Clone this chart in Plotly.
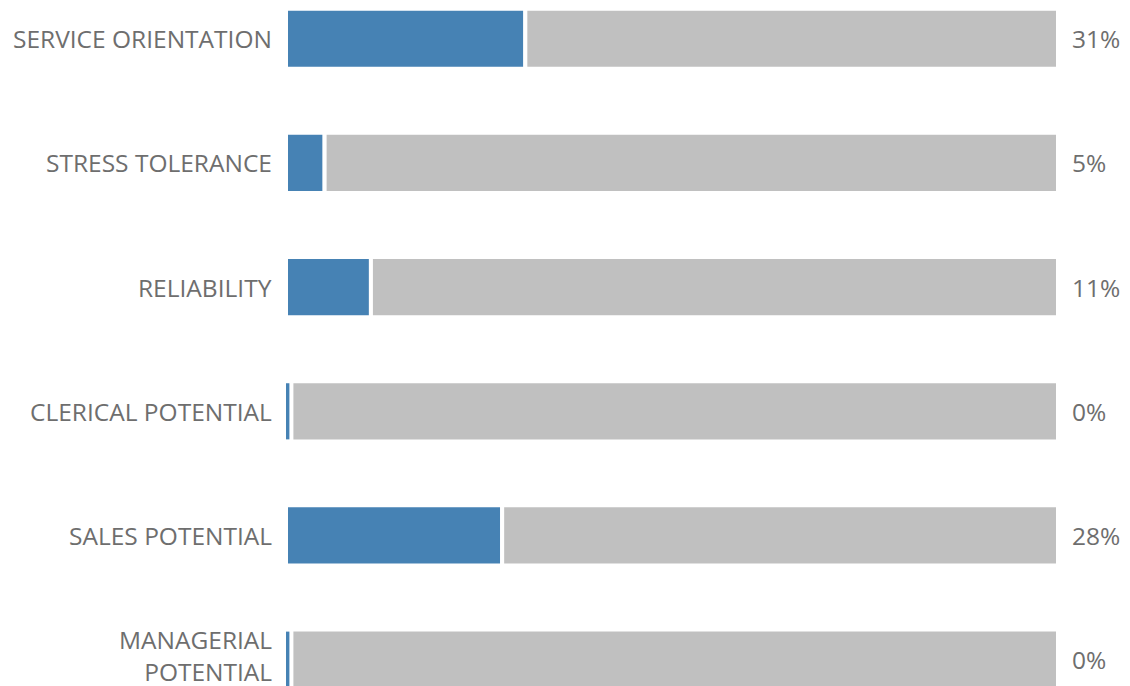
import plotly.graph_objects as go

categories = ["SERVICE ORIENTATION", "STRESS TOLERANCE", "RELIABILITY",
              "CLERICAL POTENTIAL", "SALES POTENTIAL", "MANAGERIAL<br>POTENTIAL"]
scores = [31, 5, 11, 0, 28, 0]
total = 100

BLUE = "#4682b4"
GREY = "#c0c0c0"
TEXT = "#6e6e6e"
FONT = "Open Sans"
FSIZE = 24.5

# zero scores still get a thin visible sliver, as in the reference
shown = [max(v, 0.7) for v in scores]
rest = [total - v for v in shown]
blue_line = [4 if v > 0 else 0 for v in scores]
blue_width = [0.485 if v > 0 else 0.452 for v in scores]

fig = go.Figure()
fig.add_trace(go.Bar(
    y=categories, x=shown, orientation="h",
    marker=dict(color=BLUE, line=dict(color="white", width=blue_line)),
    width=blue_width, hoverinfo="skip",
))
fig.add_trace(go.Bar(
    y=categories, x=rest, base=shown, orientation="h",
    marker=dict(color=GREY, line=dict(color="white", width=4)),
    width=0.485, hoverinfo="skip",
))

for c, v in zip(categories, scores):
    fig.add_annotation(
        x=1, xref="paper", y=c, yref="y", text=f"{v}%",
        xanchor="left", yanchor="middle", xshift=12, showarrow=False,
        font=dict(family=FONT, size=FSIZE, color=TEXT),
    )
    multiline = "<br>" in c
    fig.add_annotation(
        x=0, xref="paper", y=c, yref="y", text=c,
        xanchor="right", yanchor="middle", xshift=-13, align="right",
        yshift=4 if multiline else 0,
        showarrow=False, borderpad=0,
        font=dict(family=FONT, size=FSIZE, color=TEXT),
    )

fig.update_layout(
    width=1130, height=686,
    margin=dict(l=286, r=72, t=0, b=0, pad=0, autoexpand=False),
    barmode="overlay",
    showlegend=False,
    plot_bgcolor="white", paper_bgcolor="white",
    font=dict(family=FONT, size=FSIZE, color=TEXT),
    xaxis=dict(range=[0, total], visible=False, fixedrange=True),
    yaxis=dict(
        type="category", categoryorder="array", categoryarray=categories,
        autorange=False, range=[5.212, -0.312], showgrid=False, zeroline=False,
        showline=False, ticks="", showticklabels=False, fixedrange=True,
    ),
)

fig.write_html("out.html", config={"displayModeBar": False},
               post_script="document.body.style.margin='0';")
